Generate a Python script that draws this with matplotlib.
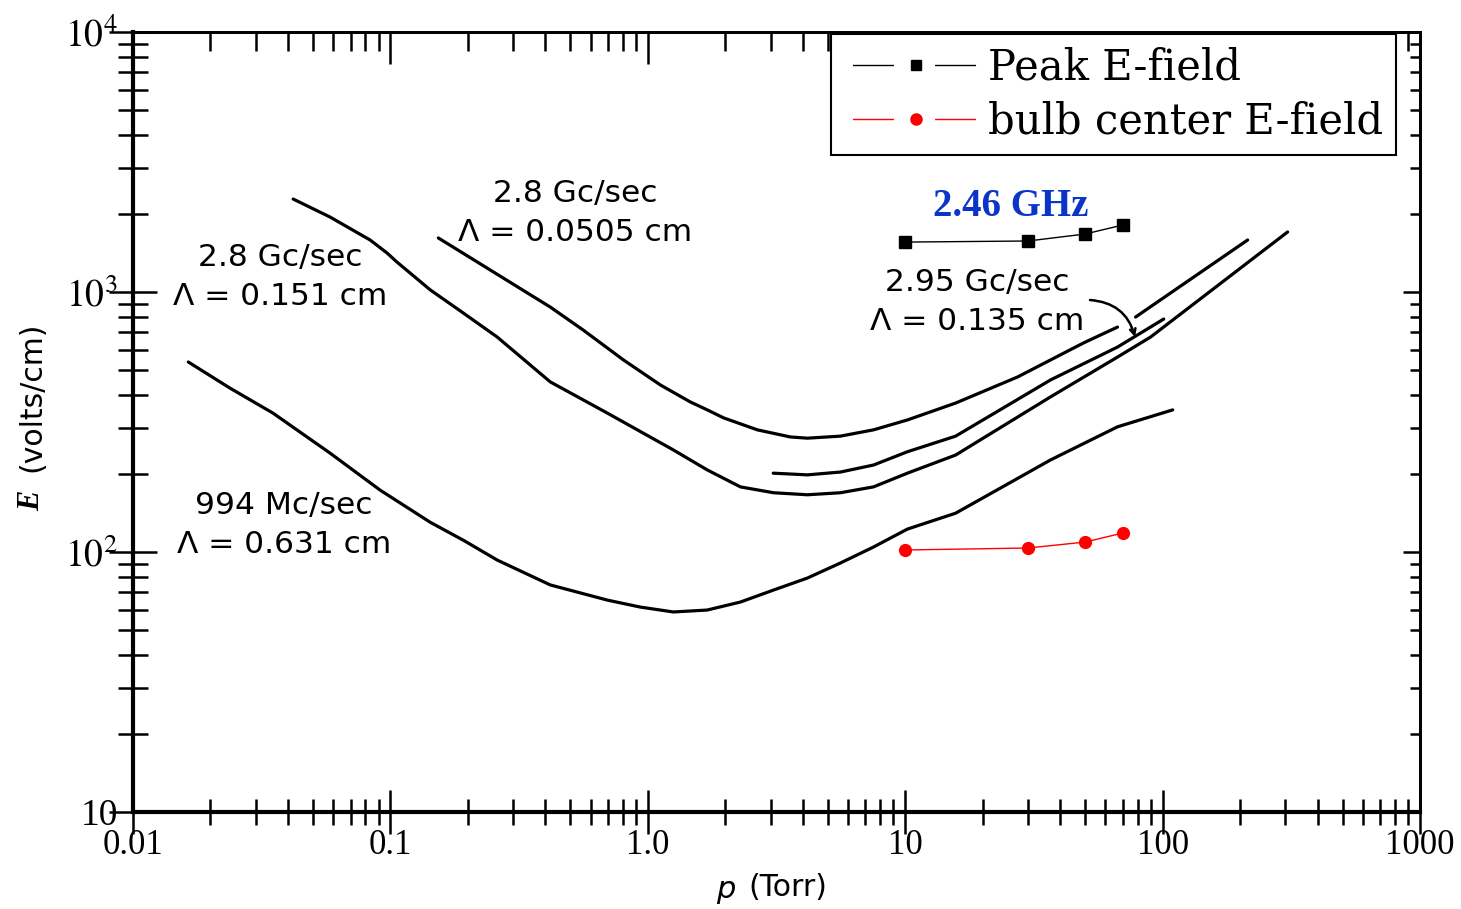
import numpy as np
import matplotlib
matplotlib.use('Agg')
import matplotlib.pyplot as plt
from matplotlib.ticker import LogLocator, FixedLocator, NullFormatter, FixedFormatter
from matplotlib.lines import Line2D
from matplotlib.legend_handler import HandlerTuple

plt.rcParams['mathtext.fontset'] = 'stix'

# ---- data ----
p_994 = [0.0164, 0.0238, 0.035, 0.0583, 0.0912, 0.143, 0.192, 0.260, 0.418, 0.697, 0.935,
         1.256, 1.70, 2.29, 3.08, 4.17, 5.60, 7.53, 10.2, 15.7, 36.7, 66.8, 109.4]
E_994 = [538, 427, 342, 240, 173, 130, 111, 93.1, 74.7, 65.3, 61.4,
         58.8, 59.8, 64.2, 71.4, 79.4, 90.7, 104.5, 122.5, 141, 226, 303, 352]

p_151 = [0.0419, 0.0583, 0.0834, 0.097, 0.106, 0.143, 0.192, 0.260, 0.418, 0.697, 1.256,
         1.70, 2.29, 3.08, 4.17, 5.60, 7.53, 10.2, 15.7, 36.7, 66.8, 89.8, 306]
E_151 = [2278, 1942, 1585, 1413, 1304, 1018, 830, 671, 451, 342, 247,
         207, 178, 169, 166, 169, 178, 201, 236, 395, 562, 671, 1702]

p_0505 = [0.1535, 0.418, 0.561, 0.804, 1.119, 1.46, 1.703, 1.97, 2.665, 3.58, 4.17, 5.60,
          7.53, 10.2, 15.7, 27.3, 49.3, 66.8, np.nan, 78.5, 214]
E_0505 = [1614, 875, 714, 548, 439, 378, 352, 328, 295, 277, 274, 279,
          295, 322, 374, 471, 637, 733, np.nan, 801, 1585]

p_135 = [3.07, 4.17, 5.60, 7.53, 10.2, 15.7, 36.7, 66.8, 101]
E_135 = [201, 198, 203, 216, 243, 279, 459, 614, 787]

p_sim = [10, 30, 50, 70]
E_peak = [1556, 1571, 1671, 1810]
E_center = [101.8, 103.6, 109.2, 118.3]

x_ticks = [0.01, 0.1, 1.0, 10, 100, 1000]
x_ticklabels = ['0.01', '0.1', '1.0', '10', '100', '1000']
y_ticks = [10, 100, 1000, 10000]
y_ticklabels = ['10', '$10^2$', '$10^3$', '$10^4$']

W, H = 1461, 909
fig = plt.figure(figsize=(W / 100, H / 100), dpi=100)
ax = fig.add_axes([133 / W, 1 - 812 / H, (1420 - 133) / W, (812 - 32) / H])
ax.set_xscale('log')
ax.set_yscale('log')
ax.set_xlim(0.01, 1000)
ax.set_ylim(10, 1e4)

curve_kw = dict(color='black', lw=2.3, solid_capstyle='round', solid_joinstyle='round')
ax.plot(p_994, E_994, **curve_kw)
ax.plot(p_151, E_151, **curve_kw)
ax.plot(p_0505, E_0505, **curve_kw)
ax.plot(p_135, E_135, **curve_kw)

l1, = ax.plot(p_sim, E_peak, color='black', lw=1.0, marker='s', ms=8, mfc='black', mec='black')
l2, = ax.plot(p_sim, E_center, color='red', lw=1.0, marker='o', ms=8.5, mfc='red', mec='red')

# ---- ticks ----
sans = 'DejaVu Sans'
serif = 'Liberation Serif'
ax.xaxis.set_major_locator(FixedLocator(x_ticks))
ax.xaxis.set_major_formatter(FixedFormatter(x_ticklabels))
ax.xaxis.set_minor_locator(LogLocator(base=10, subs=np.arange(2, 10)))
ax.xaxis.set_minor_formatter(NullFormatter())
ax.yaxis.set_major_locator(FixedLocator(y_ticks))
ax.yaxis.set_major_formatter(FixedFormatter(y_ticklabels))
ax.yaxis.set_minor_locator(LogLocator(base=10, subs=np.arange(2, 10)))
ax.yaxis.set_minor_formatter(NullFormatter())

ax.tick_params(axis='x', which='major', direction='inout', length=32, width=1.8, pad=-4,
               labelsize=25, top=False)
ax.tick_params(axis='x', which='minor', direction='inout', length=19, width=1.8, top=False)
ax.tick_params(axis='y', which='major', direction='inout', length=34, width=1.8, pad=-6,
               labelsize=27, right=False)
ax.tick_params(axis='y', which='minor', direction='inout', length=22, width=1.8, right=False)
for lab in ax.get_xticklabels() + ax.get_yticklabels():
    lab.set_fontfamily(serif)

for s in ['left', 'bottom']:
    ax.spines[s].set_linewidth(3)
for s in ['top', 'right']:
    ax.spines[s].set_linewidth(2)

secx = ax.secondary_xaxis('top')
secx.xaxis.set_major_locator(FixedLocator(x_ticks))
secx.xaxis.set_minor_locator(LogLocator(base=10, subs=np.arange(2, 10)))
secx.xaxis.set_major_formatter(NullFormatter())
secx.xaxis.set_minor_formatter(NullFormatter())
secx.tick_params(which='major', direction='in', length=23, width=1.8)
secx.tick_params(which='minor', direction='in', length=14, width=1.8)
secx.spines['top'].set_linewidth(2)

secy = ax.secondary_yaxis('right')
secy.yaxis.set_major_locator(FixedLocator(y_ticks))
secy.yaxis.set_minor_locator(LogLocator(base=10, subs=np.arange(2, 10)))
secy.yaxis.set_major_formatter(NullFormatter())
secy.yaxis.set_minor_formatter(NullFormatter())
secy.tick_params(which='major', direction='in', length=12, width=1.8)
secy.tick_params(which='minor', direction='in', length=7, width=1.8)
secy.spines['right'].set_linewidth(2)

# ---- curve annotations ----
lab_kw = dict(fontsize=22.5, family=sans, ha='center', va='center', linespacing=1.46)
def px(x, y):
    return (x / W, 1 - y / H)

fig.text(*px(575, 213), '2.8 Gc/sec\n\u039b = 0.0505 cm', **lab_kw)
fig.text(*px(280, 277), '2.8 Gc/sec\n\u039b = 0.151 cm', **lab_kw)
fig.text(*px(284, 525), '994 Mc/sec\n\u039b = 0.631 cm', **lab_kw)
fig.text(*px(977, 302), '2.95 Gc/sec\n\u039b = 0.135 cm', **lab_kw)

ax.annotate('', xy=(1135, H - 337), xytext=(1090, H - 300), xycoords='figure pixels',
            textcoords='figure pixels',
            arrowprops=dict(arrowstyle='->', lw=1.8, color='black', shrinkA=0, shrinkB=0,
                            connectionstyle='arc3,rad=-0.35'))

fig.text(*px(1011, 207), '2.46 GHz', fontsize=28, family=serif, weight='bold',
         color='#0a35c8', ha='center', va='center')

# ---- axis labels ----
fig.text(*px(32, 501), 'E', fontsize=22, family=serif, style='italic', weight='bold',
         rotation=90, ha='center', va='center')
fig.text(*px(32, 397), '(volts/cm)', fontsize=21.5, family=sans, rotation=90,
         ha='center', va='center')
fig.text(*px(726, 890), 'p', fontsize=22, family=sans, style='italic', ha='center', va='center')
fig.text(*px(788, 887), '(Torr)', fontsize=21.5, family=sans, ha='center', va='center')

# ---- legend ----
def gap_line(color):
    return Line2D([], [], color=color, lw=1.0,
                  linestyle=(0, (0.001, 6.1, 29.5, 29.6, 29.5, 300)))

h1 = (gap_line('black'), Line2D([], [], ls='none', marker='s', ms=7, color='black'))
h2 = (gap_line('red'), Line2D([], [], ls='none', marker='o', ms=8, color='red'))
leg_fs = 30
leg = ax.legend([h1, h2], ['Peak E-field', 'bulb center E-field'],
                handler_map={tuple: HandlerTuple(ndivide=1, pad=0)},
                loc='upper left', bbox_to_anchor=(831 / W, 1 - 34 / H),
                bbox_transform=fig.transFigure, borderaxespad=0,
                prop={'family': 'DejaVu Serif', 'size': leg_fs},
                handlelength=104.0 / leg_fs, handletextpad=0.0, labelspacing=0.29,
                borderpad=0.3, fancybox=False, framealpha=1, edgecolor='black')
leg.get_frame().set_linewidth(1.5)
leg.set_zorder(10)

fig.savefig('out.png', dpi=100)
